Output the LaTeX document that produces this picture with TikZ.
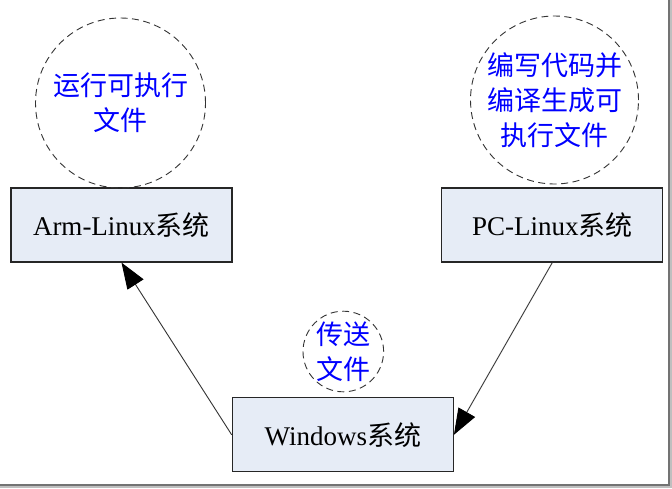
\documentclass[tikz,border=0pt]{standalone}
\usepackage{fontspec}
\setmainfont{Liberation Serif}
\newfontfamily\cjk{Noto Sans CJK SC}
\usetikzlibrary{arrows.meta}
\definecolor{boxfill}{RGB}{230,236,246}
\begin{document}
\begin{tikzpicture}[x=1pt,y=-1pt,
  sysbox/.style={draw=black!85, line width=1.2pt, fill=boxfill, minimum width=221pt, minimum height=74pt, inner sep=0pt, font=\fontsize{27}{32}\selectfont},
  note/.style={circle, draw=black!80, line width=0.9pt, dash pattern=on 7pt off 4.5pt, text=blue, align=center, inner sep=0pt, font=\fontsize{27}{35}\selectfont\cjk},
  link/.style={draw=black!80, line width=0.9pt, -{Triangle[length=26pt,width=19pt,fill=black,color=black]}},
  shadowdark/.style={fill=black!55},
  shadowlight/.style={fill=black!25}]
\useasboundingbox (0,0) rectangle (672,488);
\fill[white] (0,0) rectangle (672,488);
% frame shadow
\path[shadowdark] (668,0) rectangle (670,486);
\path[shadowlight] (670,0) rectangle (672,488);
\path[shadowdark] (0,483.5) rectangle (670,485.5);
\path[shadowlight] (0,485.5) rectangle (672,488);
% boxes
\node[sysbox] (arm) at (121.5,225) {Arm-Linux{\cjk 系统}};
\node[sysbox] (pc)  at (552.3,225) {PC-Linux{\cjk 系统}};
\node[sysbox] (win) at (342.8,434.8) {Windows{\cjk 系统}};
% notes
\node[note, minimum size=170pt] (n1) at (120.5,103) {运行可执行\\文件};
\node[note, minimum size=168pt] (n2) at (554.5,100) {编写代码并\\编译生成可\\执行文件};
\node[note, minimum size=79pt] (n3) at (343.3,351.5) {传送\\文件};
% connectors
\draw[link] (win.west) -- (arm.south);
\draw[link] (pc.south) -- (win.east);
\end{tikzpicture}
\end{document}
